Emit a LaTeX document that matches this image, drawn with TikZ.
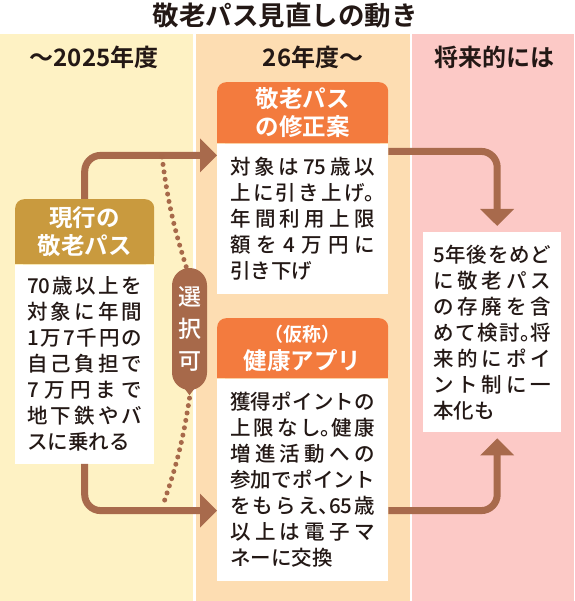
\documentclass[tikz,border=0pt]{standalone}
\usepackage{fontspec}
\setmainfont{Noto Sans CJK JP Medium}[BoldFont={Noto Sans CJK JP Bold}]
\usetikzlibrary{arrows.meta,positioning}
\XeTeXlinebreaklocale "ja"
\XeTeXlinebreakskip=0pt plus 4pt
\tolerance=10000
\hbadness=10000
\definecolor{bandOld}{RGB}{254,242,196}
\definecolor{bandNew}{RGB}{253,221,178}
\definecolor{bandFut}{RGB}{252,201,198}
\definecolor{cGold}{RGB}{201,154,62}
\definecolor{cOrange}{RGB}{243,123,62}
\definecolor{cArrow}{RGB}{168,106,76}
\definecolor{cPill}{RGB}{167,105,74}
\definecolor{ink}{RGB}{35,24,21}
\newcommand\kuten{\makebox[0.5em][l]{。}}
\newcommand\touten{\makebox[0.5em][l]{、}}

\begin{document}
\begin{tikzpicture}[x=1pt, y=-1pt, node distance=0pt,
      headbox/.style={rectangle, rounded corners=9pt, fill=#1, text=white, inner sep=0pt,
                      align=center, font=\bfseries\fontsize{23.5}{27.5}\selectfont},
      memobox/.style={rectangle, fill=white, inner sep=0pt, text=ink, align=justify,
                      font=\fontsize{20.5}{26}\selectfont},
      colhead/.style={text=ink, font=\bfseries\fontsize{24}{24}\selectfont},
      flow/.style={draw=cArrow, line width=7pt, rounded corners=16pt,
                   -{Triangle[length=17pt,width=33pt]}},
      dotline/.style={draw=cPill, line width=5pt, line cap=round, dash pattern=on 0pt off 7.5pt}]
    \useasboundingbox (0,0) rectangle (574,601);
    \fill[white] (0,0) rectangle (574,601);
    % three columns
    \fill[bandOld] (0,34) rectangle (193,601);
    \fill[bandNew] (195.5,34) rectangle (409.5,601);
    \fill[bandFut] (411.5,34) rectangle (574,601);
    \node[text=ink, font=\bfseries\fontsize{26.5}{26.5}\selectfont] (title) at (285,15) {敬老パス見直しの動き};
    \node[colhead] (colOld) at (94,57) {〜2025年度};
    \node[colhead] (colNew) at (313,57) {26年度〜};
    \node[colhead] (colFut) at (494,57) {将来的には};
    % square off the lower corners of the heads
    \fill[cGold] (15,254) rectangle (154,264);
    \fill[cOrange] (217,133) rectangle (388,143);
    \fill[cOrange] (217,368) rectangle (388,378);
    % boxes
    \node[headbox=cGold, anchor=north west, minimum width=139pt, minimum height=65pt] (hdrA) at (15,199) {現行の\\敬老パス};
    \node[memobox, below=of hdrA, minimum width=139pt, minimum height=199pt, text width=115pt] (txtA) {70歳以上を\linebreak
対象に年間\linebreak
1万7千円の\linebreak
自己負担で\linebreak
7万円まで\linebreak
地下鉄やバ\linebreak
スに乗れる};
    \node[headbox=cOrange, anchor=north west, minimum width=171pt, minimum height=61pt] (hdrB) at (217,82) {敬老パス\\の修正案};
    \node[memobox, below=of hdrB, minimum width=171pt, minimum height=150pt, text width=145pt] (txtB) {対象は75歳以\linebreak
上に引き上げ\kuten\linebreak
年間利用上限\linebreak
額を4万円に\linebreak
引き下げ};
    \node[headbox=cOrange, anchor=north west, minimum width=171pt, minimum height=60pt] (hdrC) at (217,318) {{\fontsize{19}{24}\selectfont （仮称）}\\健康アプリ};
    \node[memobox, below=of hdrC, minimum width=171pt, minimum height=202pt, text width=145pt] (txtC) {獲得ポイントの\linebreak
上限なし\kuten 健康\linebreak
増進活動への\linebreak
参加でポイント\linebreak
をもらえ\touten 65歳\linebreak
以上は電子マ\linebreak
ネーに交換};
    \node[memobox, anchor=north west, minimum width=138pt, minimum height=200pt, text width=118pt] (txtD) at (423,232) {5年後をめど\linebreak
に敬老パス\linebreak
の存廃を含\linebreak
めて検討\kuten 将\linebreak
来的にポイ\linebreak
ント制に一\linebreak
本化も};
    % arrows
    \draw[flow] (hdrA.north) |- ([yshift=-12pt]txtB.north west);
    \draw[flow] (txtA.south) |- ([yshift=-31pt]txtC.west);
    \draw[flow] ([yshift=-8pt]txtB.north east) -| ([xshift=5pt,yshift=6pt]txtD.north);
    \draw[flow] ([yshift=-31pt]txtC.east) -| ([xshift=5pt,yshift=-6pt]txtD.south);
    % either one
    \node[rectangle, rounded corners=17.5pt, fill=cPill, text=white, inner sep=0pt, align=center,
          minimum width=35pt, minimum height=122pt, font=\fontsize{23}{32}\selectfont] (choice) at (189.5,329) {選\\択\\可};
    \coordinate (nib) at ([yshift=-5pt]choice.south);
    \fill[cPill] ([xshift=-6pt,yshift=3pt]choice.south) -- (nib) -- ([xshift=6pt,yshift=3pt]choice.south) -- cycle;
    \coordinate (dotTop) at (162,157);
    \coordinate (dotBot) at (163,505);
    \draw[dotline] (dotTop) to[bend right=5] ([xshift=-3pt]choice.north);
    \draw[dotline] ([yshift=-3pt]nib) to[bend left=5] (dotBot);
  \end{tikzpicture}
\end{document}
